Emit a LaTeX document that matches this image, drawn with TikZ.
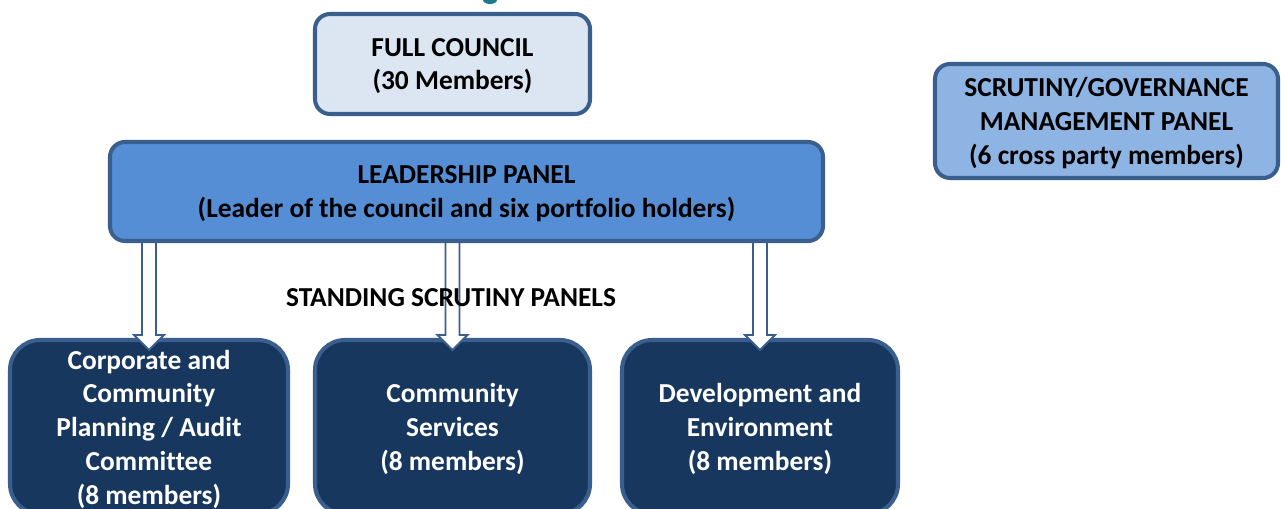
\documentclass[tikz,border=0pt]{standalone}
\usepackage{fontspec}
\setmainfont[Ligatures=NoCommon]{Carlito}
\usetikzlibrary{calc}
\definecolor{paleblue}{HTML}{DCE6F2}
\definecolor{midblue}{HTML}{558ED5}
\definecolor{softblue}{HTML}{8EB4E3}
\definecolor{navy}{HTML}{17375E}
\definecolor{edgeblue}{HTML}{3A5F8E}
\definecolor{titleteal}{HTML}{1B7A8C}
% one drawing unit
\newcommand{\un}{0.02cm}
\tikzset{
  panel/.style={draw=edgeblue, line width=2.3pt, rounded corners=15*\un,
    align=center, font=\fontsize{15.6}{19.2}\selectfont\bfseries,
    inner sep=0pt, text=black, text depth=0pt},
  subpanel/.style={panel, fill=navy, rounded corners=30*\un, text=white},
  size/.style 2 args={minimum width=#1*\un, minimum height=#2*\un},
  hollowarrow/.style={draw=edgeblue, line width=1.1pt, fill=white, line join=miter},
  heading/.style={font=\fontsize{15.6}{19}\selectfont\bfseries, inner sep=0pt}
}
% hollow block arrow from #1 (top of shaft) to #2 (tip)
\newcommand{\blockarrow}[2]{%
  \draw[hollowarrow] ($(#1)+(-7,0)$) -- ($(#2)+(-7,-15)$) -- ($(#2)+(-15,-15)$)
    -- (#2) -- ($(#2)+(15,-15)$) -- ($(#2)+(7,-15)$) -- ($(#1)+(7,0)$) -- cycle;}
\begin{document}
\begin{tikzpicture}[x=0.02cm, y=-0.02cm]
  \useasboundingbox (0,0) rectangle (1281,509);
  \clip (0,0) rectangle (1281,509);
  \fill[white] (0,0) rectangle (1281,509);

  % lower edge of the page title above the chart
  \fill[titleteal] (490,0) ellipse [x radius=7, y radius=4];

  % bottom row: standing scrutiny panels
  \node[subpanel, size={278}{174}] (corp) at (149,427)
    {Corporate and\\Community\\Planning / Audit\\Committee\\(8 members)};
  \node[subpanel, size={275}{174}] (comm) at (452.5,427)
    {Community\\Services\\(8 members)};
  \node[subpanel, size={276}{174}] (dev) at (760,427)
    {Development and\\Environment\\(8 members)};

  % leadership panel outline, used as the arrows' origin
  \path (466.5,191.5) node[panel, size={713}{99}, draw=none] (lead) {\phantom{X}};

  \coordinate (t1) at ($(corp.north)+(0,12)$);
  \coordinate (t2) at ($(comm.north)+(0,12)$);
  \coordinate (t3) at ($(dev.north)+(0,12)$);
  \blockarrow{corp.north |- lead.center}{t1}
  \blockarrow{comm.north |- lead.center}{t2}
  \blockarrow{dev.north |- lead.center}{t3}

  \node[heading] (standing) at (451,298) {STANDING SCRUTINY PANELS};

  \node[panel, fill=midblue, size={713}{99}] at (lead.center)
    {LEADERSHIP PANEL\\(Leader of the council and six portfolio holders)};

  \node[panel, fill=paleblue, size={275}{100}] (full) at (452.5,64)
    {FULL COUNCIL\\(30 Members)};

  \node[panel, fill=softblue, size={343}{114}] (scrut) at (1106.5,121)
    {SCRUTINY/GOVERNANCE\\MANAGEMENT PANEL\\(6 cross party members)};
\end{tikzpicture}
\end{document}
